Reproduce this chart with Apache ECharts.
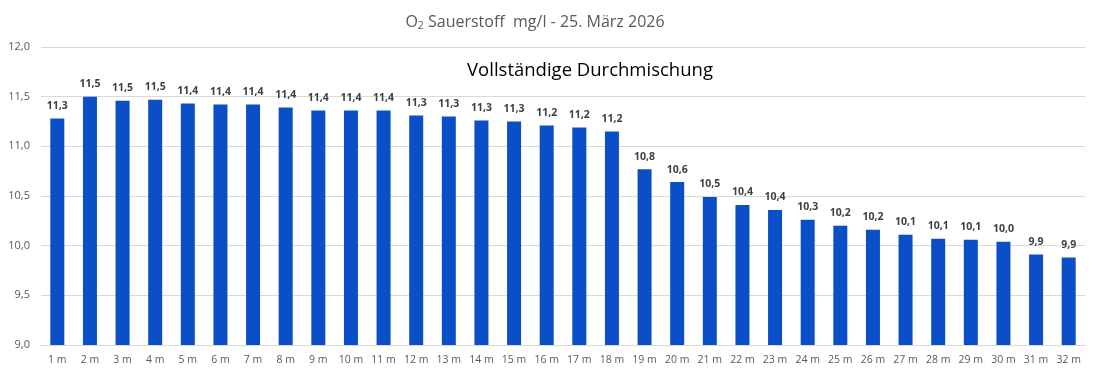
<!DOCTYPE html>
<html>
<head>
<meta charset="utf-8">
<script src="https://cdn.jsdelivr.net/npm/echarts@6/dist/echarts.min.js"></script>
<style>html,body{margin:0;padding:0;background:#fff}#c{width:1100px;height:375px}</style>
</head>
<body>
<div id="c"></div>
<script>
const categories = ['1 m','2 m','3 m','4 m','5 m','6 m','7 m','8 m','9 m','10 m','11 m','12 m','13 m','14 m','15 m','16 m','17 m','18 m','19 m','20 m','21 m','22 m','23 m','24 m','25 m','26 m','27 m','28 m','29 m','30 m','31 m','32 m'];
const oxygen = [11.28,11.50,11.46,11.47,11.43,11.42,11.42,11.39,11.36,11.36,11.36,11.31,11.30,11.26,11.25,11.21,11.19,11.15,10.77,10.64,10.49,10.41,10.36,10.26,10.20,10.16,10.11,10.07,10.06,10.04,9.91,9.88];
const yTicks = {min: 9, max: 12, interval: 0.5};
const titleText = 'Sauerstoff  mg/l - 25. März 2026';
const subtitleText = 'Vollständige Durchmischung';

const fmt = v => (Math.round(v * 10 + 1e-9) / 10).toFixed(1).replace('.', ',');
const FONT = 'Open Sans';
const chart = echarts.init(document.getElementById('c'), null, {renderer: 'canvas'});
chart.setOption({
  animation: false,
  backgroundColor: '#ffffff',
  title: [{
    text: '{o|O}{sub|2}{t| ' + titleText + '}',
    left: 530, top: 7, textAlign: 'center',
    textStyle: {
      fontWeight: 'normal',
      rich: {
        o: {fontFamily: FONT, fontSize: 16, color: '#595959', fontWeight: 'normal'},
        sub: {fontFamily: FONT, fontSize: 10.5, color: '#595959', fontWeight: 'normal', verticalAlign: 'bottom', padding: [9,0,0,0]},
        t: {fontFamily: FONT, fontSize: 16, color: '#595959', fontWeight: 'normal'}
      }
    }
  }, {
    text: subtitleText,
    left: 585, top: 56, textAlign: 'center',
    textStyle: {fontFamily: FONT, fontSize: 18.5, fontWeight: 'normal', color: '#000000'}
  }],
  grid: {left: 41, right: 15, top: 47, bottom: 30, containLabel: false},
  xAxis: {
    type: 'category', data: categories,
    axisLine: {lineStyle: {color: '#d9d9d9', width: 1}},
    axisTick: {show: false},
    axisLabel: {color: '#595959', fontFamily: FONT, fontSize: 10.5, margin: 10, interval: 0}
  },
  yAxis: {
    type: 'value', min: yTicks.min, max: yTicks.max, interval: yTicks.interval,
    axisLine: {show: false}, axisTick: {show: false},
    splitLine: {lineStyle: {color: '#d9d9d9', width: 1}},
    axisLabel: {color: '#595959', fontFamily: FONT, fontSize: 11, margin: 11, formatter: v => fmt(v)}
  },
  series: [{
    type: 'bar', data: oxygen, barWidth: 14,
    itemStyle: {color: '#0a4fc7'},
    label: {show: true, position: 'top', distance: 7, color: '#404040', fontFamily: FONT, fontSize: 10.5, fontWeight: 'bold', formatter: p => fmt(p.value)}
  }]
});
</script>
</body>
</html>
